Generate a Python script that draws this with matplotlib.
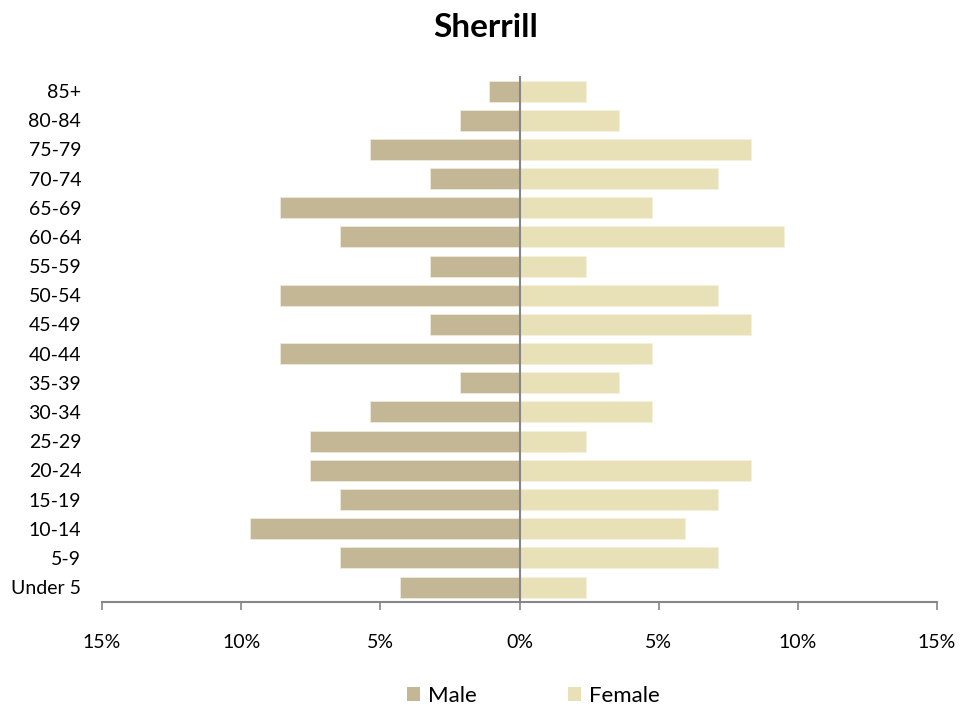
import matplotlib
matplotlib.use("Agg")
import matplotlib.pyplot as plt
from matplotlib.patches import Patch
from matplotlib.ticker import FuncFormatter, FixedLocator

plt.rcParams['font.family'] = ['Lato', 'DejaVu Sans']

age_groups = ["Under 5", "5-9", "10-14", "15-19", "20-24", "25-29", "30-34", "35-39",
              "40-44", "45-49", "50-54", "55-59", "60-64", "65-69", "70-74", "75-79",
              "80-84", "85+"]
male_pct = [4.30, 6.45, 9.68, 6.45, 7.53, 7.53, 5.38, 2.15, 8.60, 3.23, 8.60, 3.23,
            6.45, 8.60, 3.23, 5.38, 2.15, 1.08]
female_pct = [2.38, 7.14, 5.95, 7.14, 8.33, 2.38, 4.76, 3.57, 4.76, 8.33, 7.14, 2.38,
              9.52, 4.76, 7.14, 8.33, 3.57, 2.38]
x_ticks = [-15, -10, -5, 0, 5, 10, 15]

male_color = "#C4B795"
female_color = "#E8E1B7"
axis_color = "#868686"

fig = plt.figure(figsize=(9.79, 7.13), dpi=100)
ax = fig.add_axes([0.1042, 0.1562, 0.8529, 0.7366])

y = list(range(len(age_groups)))
ax.barh(y, [-m for m in male_pct], height=0.72, color=male_color,
        edgecolor="#EFEBDD", linewidth=0.6, label="Male")
ax.barh(y, female_pct, height=0.72, color=female_color,
        edgecolor="#F5F1DE", linewidth=0.6, label="Female")

ax.set_xlim(-15, 15)
ax.set_ylim(-0.5, len(age_groups) - 0.5)
ax.set_yticks(y)
ax.set_yticklabels(age_groups)
ax.xaxis.set_major_locator(FixedLocator(x_ticks))
ax.xaxis.set_major_formatter(FuncFormatter(lambda v, p: f"{abs(int(round(v)))}%"))

for s in ["top", "right", "left"]:
    ax.spines[s].set_visible(False)
ax.spines["bottom"].set_color(axis_color)
ax.spines["bottom"].set_linewidth(1.5)
ax.axvline(0, color=axis_color, linewidth=1.5, zorder=3)

ax.tick_params(axis="y", length=0, pad=15, labelsize=14, colors="black")
ax.tick_params(axis="x", length=6, width=1.2, color=axis_color, direction="out",
               pad=17, labelsize=14, colors="black")
for lbl in ax.get_xticklabels():
    lbl.set_color("black")

fig.text(0.496, 0.962, "Sherrill", ha="center", va="center", fontsize=24,
         fontweight="bold")

handles = [Patch(facecolor=male_color, edgecolor="none", label="Male"),
           Patch(facecolor=female_color, edgecolor="none", label="Female")]
fig.legend(handles=handles, loc="center", bbox_to_anchor=(0.545, 0.024), ncol=2,
           frameon=False, fontsize=16, handlelength=0.6, handleheight=0.6,
           handletextpad=0.35, columnspacing=4.1)

fig.savefig("out.png", dpi=100)
